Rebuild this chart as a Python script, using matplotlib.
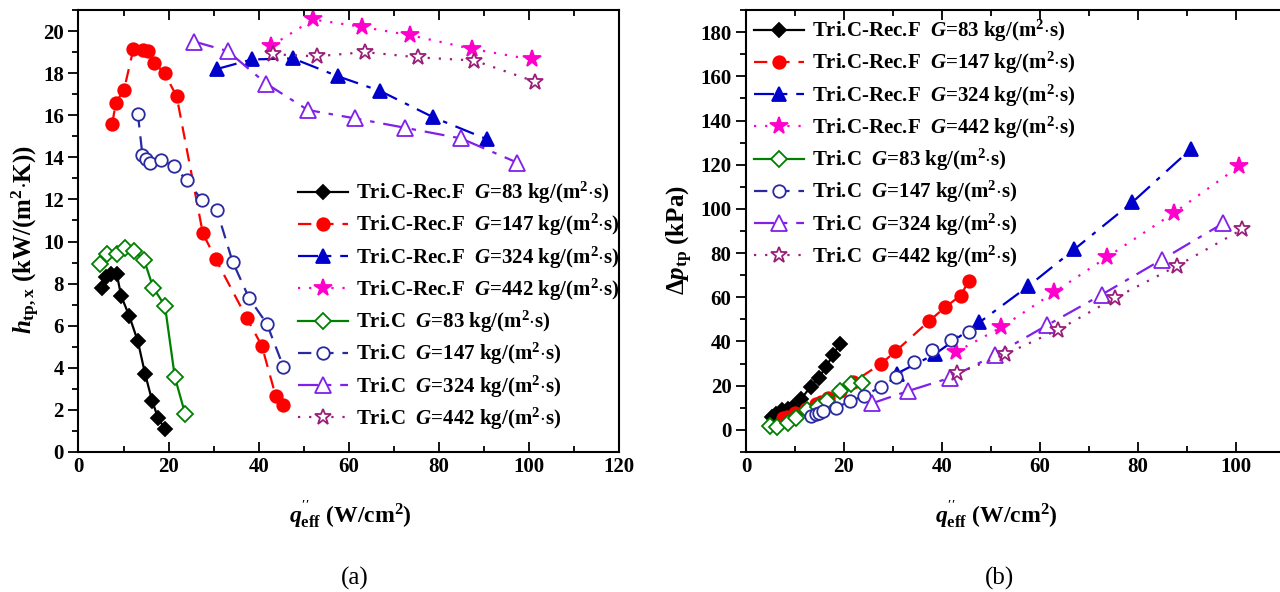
import matplotlib
matplotlib.use('Agg')
import matplotlib.pyplot as plt
from matplotlib.ticker import MultipleLocator

plt.rcParams['font.family'] = ['Liberation Serif', 'DejaVu Serif']
plt.rcParams['font.weight'] = 'bold'
plt.rcParams['axes.labelweight'] = 'bold'
plt.rcParams['mathtext.fontset'] = 'custom'
plt.rcParams['mathtext.rm'] = 'Liberation Serif:bold'
plt.rcParams['mathtext.it'] = 'Liberation Serif:italic:bold'
plt.rcParams['mathtext.bf'] = 'Liberation Serif:bold'

# effective heat flux q''_eff (W/cm2), local HTC h_tp,x (kW/(m2 K)), pressure drop (kPa)
q_rec83 = [5.3, 6.2, 7.3, 8.5, 9.5, 11.3, 13.2, 14.8, 16.4, 17.7, 19.2]
h_rec83 = [7.8, 8.3, 8.45, 8.45, 7.4, 6.45, 5.25, 3.7, 2.4, 1.6, 1.1]
dp_rec83 = [5.9, 7.4, 8.9, 9.3, 10.5, 14.2, 19.5, 23.6, 28.6, 33.9, 38.9]

q_rec147 = [7.5, 8.3, 10.1, 12.2, 14.3, 15.4, 16.8, 19.1, 21.8, 27.6, 30.5, 37.4, 40.7, 43.8, 45.5]
h_rec147 = [15.6, 16.6, 17.2, 19.15, 19.1, 19.05, 18.5, 18.0, 16.9, 10.4, 9.15, 6.35, 5.05, 2.65, 2.25]
dp_rec147 = [5.3, 6.0, 7.5, 9.5, 11.5, 12.7, 14.5, 17.5, 21.5, 30.0, 35.5, 49.3, 55.6, 60.8, 67.5]

q_rec324 = [30.8, 38.5, 47.6, 57.6, 67.0, 78.8, 90.8]
h_rec324 = [18.2, 18.65, 18.7, 17.85, 17.15, 15.9, 14.85]
dp_rec324 = [25.5, 34.2, 48.6, 65.0, 81.7, 102.9, 127.1]

q_rec442 = [42.8, 52.1, 62.9, 73.7, 87.4, 100.6]
h_rec442 = [19.3, 20.55, 20.2, 19.8, 19.15, 18.65]
dp_rec442 = [35.2, 46.4, 62.3, 78.2, 98.3, 119.2]

q_tri83 = [4.8, 6.4, 8.6, 10.3, 12.4, 14.6, 16.6, 19.2, 21.4, 23.7]
h_tri83 = [8.95, 9.4, 9.4, 9.7, 9.55, 9.1, 7.8, 6.95, 3.55, 1.8]
dp_tri83 = [1.7, 1.5, 3.3, 5.5, 8.9, 10.5, 13.2, 17.6, 20.8, 21.4]

q_tri147 = [13.2, 14.2, 15.0, 15.8, 18.3, 21.2, 24.0, 27.5, 30.7, 34.2, 37.9, 41.8, 45.5]
h_tri147 = [16.05, 14.1, 13.9, 13.75, 13.85, 13.6, 12.9, 11.95, 11.5, 9.05, 7.3, 6.1, 4.05]
dp_tri147 = [6.4, 7.0, 7.7, 8.5, 10.0, 13.0, 15.3, 19.5, 24.1, 30.7, 36.2, 40.8, 44.5]

q_tri324 = [25.7, 33.1, 41.7, 50.9, 61.4, 72.6, 84.9, 97.4]
h_tri324 = [19.5, 19.05, 17.5, 16.25, 15.85, 15.4, 14.9, 13.75]
dp_tri324 = [12.0, 17.6, 23.6, 34.0, 47.3, 61.2, 77.1, 93.5]

q_tri442 = [43.1, 52.9, 63.7, 75.3, 87.9, 101.3]
h_tri442 = [18.9, 18.8, 19.0, 18.75, 18.6, 17.6]
dp_tri442 = [25.6, 34.2, 45.3, 59.7, 74.1, 90.8]

labels = [
    r'Tri.C-Rec.F  $G$=83 kg/(m$^2$$\cdot$s)',
    r'Tri.C-Rec.F  $G$=147 kg/(m$^2$$\cdot$s)',
    r'Tri.C-Rec.F  $G$=324 kg/(m$^2$$\cdot$s)',
    r'Tri.C-Rec.F  $G$=442 kg/(m$^2$$\cdot$s)',
    r'Tri.C  $G$=83 kg/(m$^2$$\cdot$s)',
    r'Tri.C  $G$=147 kg/(m$^2$$\cdot$s)',
    r'Tri.C  $G$=324 kg/(m$^2$$\cdot$s)',
    r'Tri.C  $G$=442 kg/(m$^2$$\cdot$s)',
]

DASH = (0, (6, 4))
DASHDOT = (0, (9, 4, 2, 4))
DOT = (0, (1, 4))

styles = [
    dict(color='black', ls='-', marker='D', ms=7, mfc='black'),
    dict(color='#ff0000', ls=DASH, marker='o', ms=9, mfc='#ff0000'),
    dict(color='#0000cc', ls=DASHDOT, marker='^', ms=10, mfc='#0000cc'),
    dict(color='#ff00cc', ls=DOT, marker='*', ms=13, mfc='#ff00cc'),
    dict(color='#008000', ls='-', marker='D', ms=8, mfc='white'),
    dict(color='#2a2aa0', ls=DASH, marker='o', ms=9, mfc='white'),
    dict(color='#8020e8', ls=DASHDOT, marker='^', ms=11, mfc='white'),
    dict(color='#991f7a', ls=DOT, marker='*', ms=12, mfc='white'),
]

qs = [q_rec83, q_rec147, q_rec324, q_rec442, q_tri83, q_tri147, q_tri324, q_tri442]
hs = [h_rec83, h_rec147, h_rec324, h_rec442, h_tri83, h_tri147, h_tri324, h_tri442]
dps = [dp_rec83, dp_rec147, dp_rec324, dp_rec442, dp_tri83, dp_tri147, dp_tri324, dp_tri442]


def style_axes(ax):
    for sp in ax.spines.values():
        sp.set_linewidth(1.5)
    ax.tick_params(axis='x', which='both', direction='in', top=True, width=1.3, labelsize=15)
    ax.tick_params(axis='y', which='both', direction='out', right=False, width=1.3, labelsize=15)
    ax.tick_params(which='major', length=7)
    ax.tick_params(which='minor', length=4)
    ax.xaxis.set_minor_locator(MultipleLocator(10))
    ax.xaxis.set_major_locator(MultipleLocator(20))


fig = plt.figure(figsize=(12.8, 5.92), dpi=100)
ax1 = fig.add_axes([0.0613, 0.2365, 0.4223, 0.7466])
ax2 = fig.add_axes([0.5828, 0.2365, 0.4211, 0.7466])

for i in range(8):
    st = styles[i]
    for ax, ys in ((ax1, hs[i]), (ax2, dps[i])):
        ax.plot(qs[i], ys, color=st['color'], ls=st['ls'], lw=1.6,
                marker=st['marker'], ms=st['ms'], mfc=st['mfc'],
                mec=st['color'], mew=1.3, label=labels[i], clip_on=False)

ax1.set_xlim(0, 120)
ax1.set_ylim(0, 21)
ax1.yaxis.set_major_locator(MultipleLocator(2))
ax1.yaxis.set_minor_locator(MultipleLocator(1))
style_axes(ax1)
ax1.set_xlabel(r"$q^{''}_{\rm eff}$ (W/cm$^2$)", fontsize=17)
ax1.xaxis.set_label_coords(272 / 540.5, -0.105)
ax1.set_ylabel(r'$h_{\rm tp,x}$ (kW/(m$^2$$\cdot$K))', fontsize=18)
ax1.yaxis.set_label_coords(-0.068, 0.48)

ax2.set_xlim(0, 110)
ax2.set_ylim(-10, 190)
ax2.yaxis.set_major_locator(MultipleLocator(20))
ax2.yaxis.set_minor_locator(MultipleLocator(10))
style_axes(ax2)
ax2.set_xlabel(r"$q^{''}_{\rm eff}$ (W/cm$^2$)", fontsize=17)
ax2.xaxis.set_label_coords(250 / 539, -0.105)
ax2.set_ylabel(r'$\Delta p_{\rm tp}$ (kPa)', fontsize=18)
ax2.yaxis.set_label_coords(-0.094, 0.48)

leg_kw = dict(loc='upper left', frameon=False, fontsize=15, handlelength=2.4,
              handletextpad=0.4, labelspacing=0.29, borderpad=0, borderaxespad=0)
ax1.legend(bbox_to_anchor=(298 / 1280, 1 - 180 / 592), bbox_transform=fig.transFigure, **leg_kw)
ax2.legend(bbox_to_anchor=(754 / 1280, 1 - 18 / 592), bbox_transform=fig.transFigure, **leg_kw)

fig.text(355 / 1280, 1 - 578 / 592, '(a)', ha='center', va='center', fontsize=18, weight='normal')
fig.text(1000 / 1280, 1 - 578 / 592, '(b)', ha='center', va='center', fontsize=18, weight='normal')

fig.savefig('out.png', dpi=100)
